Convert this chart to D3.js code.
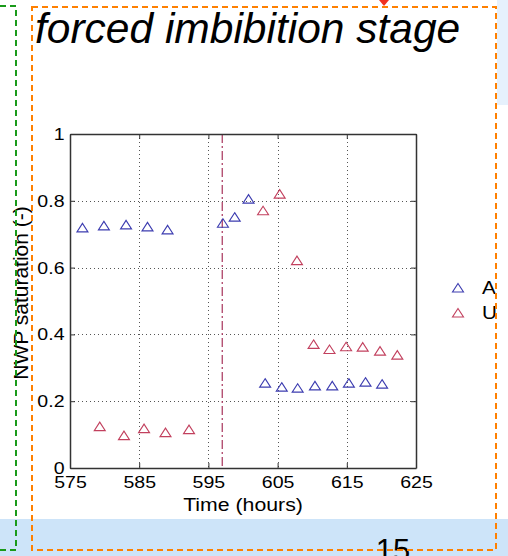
<!DOCTYPE html>
<html>
<head>
<meta charset="utf-8">
<script src="https://cdn.jsdelivr.net/npm/d3@7"></script>
<style>
  html, body { margin: 0; padding: 0; background: #fff; }
  svg { display: block; font-family: "Liberation Sans", Arial, sans-serif; }
</style>
</head>
<body>
<svg id="chart" width="508" height="556"></svg>
<script>
// Series A: time (hours) and NWP saturation
const aTime = [576.8, 579.9, 583.1, 586.2, 589.1, 597.1, 598.8, 600.8,
               603.2, 605.6, 607.9, 610.4, 612.9, 615.3, 617.7, 620.1];
const aSat  = [0.719, 0.725, 0.728, 0.722, 0.713, 0.733, 0.751, 0.805,
               0.254, 0.242, 0.239, 0.246, 0.246, 0.254, 0.257, 0.251];
// Series U
const uTime = [579.3, 582.8, 585.7, 588.8, 592.2, 602.9, 605.3, 607.8,
               610.2, 612.5, 614.9, 617.3, 619.8, 622.3];
const uSat  = [0.124, 0.097, 0.118, 0.106, 0.115, 0.770, 0.820, 0.621,
               0.370, 0.355, 0.363, 0.362, 0.350, 0.338];
// Start of forced imbibition (vertical marker)
const switchTime = 597;
// Axis ticks
const xTicks = [575, 585, 595, 605, 615, 625];
const yTicks = [0, 0.2, 0.4, 0.6, 0.8, 1];
const yTickLabels = ["0", "0.2", "0.4", "0.6", "0.8", "1"];
const legendNames = ["A", "U"];

const svg = d3.select("#chart");
const W = 508, H = 556;

// slide background pieces
svg.append("rect").attr("x", 0).attr("y", 519).attr("width", W).attr("height", H - 519).attr("fill", "#cde4f9");
svg.append("rect").attr("x", 497).attr("y", 0).attr("width", W - 497).attr("height", 105).attr("fill", "#e6f1fc");

const plot = { left: 70, right: 416, top: 134, bottom: 468 };
const x = d3.scaleLinear().domain([575, 625]).range([plot.left, plot.right]);
const y = d3.scaleLinear().domain([0, 1]).range([plot.bottom, plot.top]);

const stretch = 1.15;
const axisColor = "#333";

// plot background
svg.append("rect").attr("x", plot.left).attr("y", plot.top)
  .attr("width", plot.right - plot.left).attr("height", plot.bottom - plot.top)
  .attr("fill", "#fff");

// dotted grid
const grid = svg.append("g").attr("stroke", "#555").attr("stroke-width", 1).attr("stroke-dasharray", "1,3");
grid.selectAll("line.gx").data(xTicks.slice(1, -1)).join("line")
  .attr("x1", d => Math.round(x(d)) + 0.5).attr("x2", d => Math.round(x(d)) + 0.5)
  .attr("y1", plot.top).attr("y2", plot.bottom);
grid.selectAll("line.gy").data(yTicks.slice(1, -1)).join("line")
  .attr("y1", d => Math.round(y(d)) + 0.5).attr("y2", d => Math.round(y(d)) + 0.5)
  .attr("x1", plot.left).attr("x2", plot.right);

// dash-dot marker line
svg.append("line")
  .attr("x1", x(switchTime)).attr("x2", x(switchTime))
  .attr("y1", plot.top).attr("y2", plot.bottom)
  .attr("stroke", "#a8345c").attr("stroke-width", 1.2)
  .attr("stroke-dasharray", "9,3,2,3");

// axes (inward ticks, box on all sides)
function styleAxis(g) {
  g.select(".domain").attr("stroke", axisColor).attr("stroke-width", 1.5);
  g.selectAll(".tick line").attr("stroke", axisColor);
  g.selectAll("text").attr("fill", "#000").attr("font-size", 17);
}
const xAxis = svg.append("g").attr("transform", `translate(0,${plot.bottom})`)
  .call(d3.axisBottom(x).tickValues(xTicks).tickFormat(d3.format("d"))
    .tickSizeInner(-5).tickSizeOuter(0).tickPadding(8));
styleAxis(xAxis);
xAxis.selectAll("text").attr("transform", `scale(${stretch},1)`)
  .attr("x", 0);

const yAxis = svg.append("g").attr("transform", `translate(${plot.left},0)`)
  .call(d3.axisLeft(y).tickValues(yTicks).tickFormat((d, i) => yTickLabels[i])
    .tickSizeInner(-5).tickSizeOuter(0).tickPadding(5));
styleAxis(yAxis);
yAxis.selectAll("text").attr("x", -5.5 / stretch).attr("transform", `scale(${stretch},1)`);

svg.append("g").attr("transform", `translate(0,${plot.top})`)
  .call(d3.axisTop(x).tickValues(xTicks).tickFormat("").tickSizeInner(-5).tickSizeOuter(0))
  .call(styleAxis);
svg.append("g").attr("transform", `translate(${plot.right},0)`)
  .call(d3.axisRight(y).tickValues(yTicks).tickFormat("").tickSizeInner(-5).tickSizeOuter(0))
  .call(styleAxis);

// triangle marker centred on its bounding box
const tri = "M0,-4.5L5.5,4L-5.5,4Z";
const colA = "#3c3cb0", colU = "#c2405e";

svg.append("g").selectAll("path").data(aTime.map((t, i) => [t, aSat[i]])).join("path")
  .attr("d", tri).attr("transform", d => `translate(${x(d[0])},${y(d[1])})`)
  .attr("fill", "none").attr("stroke", colA).attr("stroke-width", 1.1);
svg.append("g").selectAll("path").data(uTime.map((t, i) => [t, uSat[i]])).join("path")
  .attr("d", tri).attr("transform", d => `translate(${x(d[0])},${y(d[1])})`)
  .attr("fill", "none").attr("stroke", colU).attr("stroke-width", 1.1);

// axis titles
svg.append("text").attr("transform", `translate(243,511) scale(${stretch},1)`)
  .attr("text-anchor", "middle").attr("font-size", 18.5).text("Time (hours)");
svg.append("text").attr("transform", "translate(28,293) rotate(-90)")
  .attr("text-anchor", "middle").attr("font-size", 21).text("NWP saturation (-)");

// legend
const legend = svg.append("g");
[colA, colU].forEach((c, i) => {
  const ly = 288 + i * 25;
  legend.append("path").attr("d", tri).attr("transform", `translate(458,${ly})`)
    .attr("fill", "none").attr("stroke", c).attr("stroke-width", 1.1);
  legend.append("text").attr("transform", `translate(482,${ly + 6}) scale(${stretch},1)`)
    .attr("font-size", 18).text(legendNames[i]);
});

// slide title
svg.append("text").attr("x", 35).attr("y", 43)
  .attr("font-size", 42.5).attr("font-style", "italic").text("forced imbibition stage");

// page number
svg.append("text").attr("x", 393).attr("y", 561).attr("text-anchor", "middle")
  .attr("font-size", 31).text("15");

// small red arrow head at top edge
svg.append("path").attr("d", "M379,0L389,0L384,6Z").attr("fill", "#f03020");

// dashed selection frames
svg.append("path").attr("d", "M0,6H16V550H0")
  .attr("fill", "none").attr("stroke", "#1a9a1a").attr("stroke-width", 2).attr("stroke-dasharray", "6,4");
svg.append("rect").attr("x", 32).attr("y", 7).attr("width", 464).attr("height", 543)
  .attr("fill", "none").attr("stroke", "#ff8000").attr("stroke-width", 2).attr("stroke-dasharray", "6,4");
</script>
</body>
</html>
